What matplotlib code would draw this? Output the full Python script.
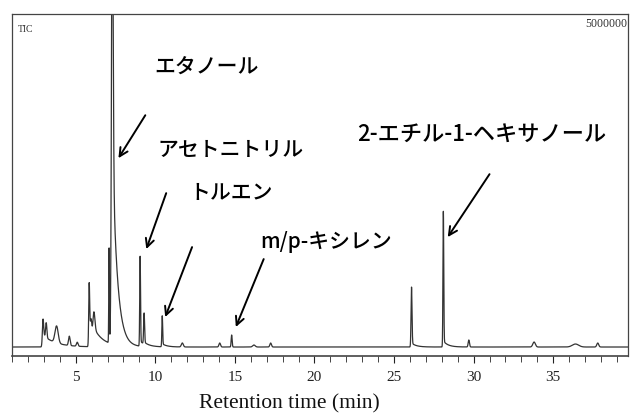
import numpy as np
import matplotlib
matplotlib.use("Agg")
import matplotlib.pyplot as plt
from matplotlib.ticker import MultipleLocator

# ---- data (retention time in min, intensity in counts) ----
peak_rt = [2.95, 3.15, 3.80, 4.60, 5.10, 5.85, 5.97, 6.15, 7.10, 7.30,
           9.05, 9.30, 10.44, 11.70, 14.05, 14.80, 16.20, 17.25,
           26.10, 28.10, 29.70, 33.80, 36.40, 37.80]
peak_height = [420000, 225000, 255000, 140000, 60000, 960000, 180000, 360000, 1425000, 7000000,
               1350000, 465000, 465000, 60000, 60000, 180000, 30000, 60000,
               900000, 2040000, 105000, 75000, 45000, 60000]
peak_sigma = [0.04, 0.04, 0.10, 0.05, 0.05, 0.03, 0.04, 0.06, 0.02, 0.05,
              0.025, 0.03, 0.025, 0.06, 0.05, 0.03, 0.08, 0.05,
              0.03, 0.025, 0.04, 0.08, 0.20, 0.06]
tail_amp = [180000, 0, 0, 0, 0, 300000, 0, 120000, 0, 3030000,
            75000, 30000, 45000, 0, 0, 0, 0, 0,
            60000, 90000, 0, 0, 0, 0]
tail_tau = [0.8, 0.1, 0.1, 0.1, 0.1, 0.5, 0.1, 0.8, 0.1, 0.3,
            0.4, 0.3, 0.3, 0.1, 0.1, 0.1, 0.1, 0.1,
            0.3, 0.3, 0.1, 0.1, 0.1, 0.1]

x_ticks = [5, 10, 15, 20, 25, 30, 35]
full_scale = 5000000

compounds = ["エタノール", "アセトニトリル", "トルエン", "m/p-キシレン", "2-エチル-1-ヘキサノール"]

# ---- build trace ----
t = np.linspace(1.0, 39.7, 12000)
signal = np.zeros_like(t)
for rt, h, s, ta, tau in zip(peak_rt, peak_height, peak_sigma, tail_amp, tail_tau):
    signal += h * np.exp(-0.5 * ((t - rt) / s) ** 2)
    d = t - rt
    mask = d > 0
    tail = np.zeros_like(t)
    tail[mask] = ta * np.exp(-d[mask] / tau) * (1 - np.exp(-0.5 * (d[mask] / s) ** 2))
    signal += tail

# ---- figure ----
fig = plt.figure(figsize=(6.3, 4.14), dpi=100)
ax = fig.add_axes([12 / 630, 1 - 357 / 414, 616 / 630, 342 / 414])
ax.plot(t, signal, color="#333333", lw=0.9)
ax.set_xlim(1.0, 39.7)
ax.set_ylim(-135000, full_scale)

ax.set_yticks([])
ax.set_xticks(x_ticks)
ax.xaxis.set_minor_locator(MultipleLocator(1))
ax.tick_params(axis="x", which="major", direction="out", length=5, width=0.8, pad=5,
               labelsize=11, colors="#222222")
ax.tick_params(axis="x", which="minor", direction="out", length=4, width=0.7, colors="#444444")
for lab in ax.get_xticklabels():
    lab.set_family("Liberation Serif")
for sp in ax.spines.values():
    sp.set_color("#444444")
    sp.set_linewidth(0.9)
ax.spines["bottom"].set_linewidth(1.2)

ax.set_xlabel("Retention time (min)", family="Liberation Serif", fontsize=15.5, color="#111111")
ax.xaxis.set_label_coords(0.451, -0.110)

fig.text(18 / 630, 1 - 29 / 414, "TIC", family="Liberation Serif", fontsize=7, color="#333333",
         va="center", ha="left")
ax.text(0.998, 0.991, "5000000", transform=ax.transAxes, family="Liberation Serif",
        fontsize=8.5, color="#333333", ha="right", va="top")

# ---- annotations ----
jp = ["Noto Sans CJK JP", "DejaVu Sans"]
def px2data(x, y):
    return 1.0 + (x - 12) / 16.0, (348 - y) * 15000.0

labels_px = [(208, 66), (232, 150), (232, 193), (328, 242), (484, 134)]
label_size = [15, 15, 15, 15, 16]
arrows_px = [((146, 116), (119, 159)),
             ((167, 194), (147, 250)),
             ((193, 248), (166, 318)),
             ((265, 260), (237, 328)),
             ((492, 175), (450, 238))]

for name, (lx, ly), fs, (start, tip) in zip(compounds, labels_px, label_size, arrows_px):
    ax.text(*px2data(lx, ly), name, family=jp, fontsize=fs, fontweight="medium",
            ha="center", va="center", color="black")
    ax.annotate("", xy=px2data(*tip), xytext=px2data(*start),
                arrowprops=dict(arrowstyle="->,head_length=0.6,head_width=0.3",
                                lw=1.4, color="black", mutation_scale=10, shrinkA=0, shrinkB=0))

fig.savefig("out.png", dpi=100)
